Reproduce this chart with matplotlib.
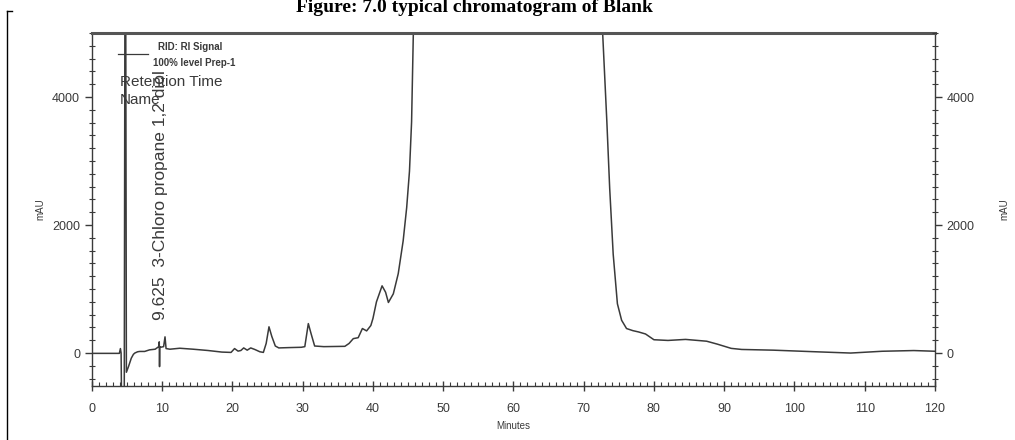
import numpy as np
import matplotlib
matplotlib.use('Agg')
import matplotlib.pyplot as plt
from matplotlib.ticker import MultipleLocator
from matplotlib.lines import Line2D

# chromatogram trace (minutes, mAU)
time_min = [0, 3.9, 4.05, 4.15, 4.2, 4.6, 4.7, 4.8, 4.9, 5.2,
            5.6, 5.9, 6.1, 6.5, 6.8, 7.5, 8.2, 9.0, 9.5, 9.58,
            9.62, 9.66, 9.75, 10.2, 10.4, 10.55, 11.1, 12.5, 14.4, 16.5,
            18.5, 19.8, 20.3, 20.8, 21.2, 21.6, 22.1, 22.6, 23.2, 23.9,
            24.4, 24.8, 25.2, 25.6, 26.1, 26.6, 28.0, 29.8, 30.3, 30.8,
            31.2, 31.7, 33.0, 36.0, 36.6, 37.2, 37.9, 38.5, 39.1, 39.7,
            40.0, 40.5, 41.3, 41.8, 42.2, 42.9, 43.6, 44.3, 44.8, 45.2,
            45.5, 45.75, 46.0, 72.5, 72.7, 73.3, 73.7, 74.2, 74.8, 75.4,
            76.1, 77.0, 77.8, 78.8, 80.0, 82.0, 84.5, 87.5, 89.0, 91.0,
            92.5, 97.0, 102.5, 108.0, 112.5, 117.0, 120.0]
signal_mau = [-5, -5, 70, 0, -600, -600, 6000, 6000, -300, -212,
              -80, -20, 0, 20, 25, 25, 50, 60, 100, 175,
              -212, 100, 90, 100, 253, 70, 60, 75, 60, 40,
              15, 10, 70, 30, 40, 80, 45, 80, 55, 20,
              10, 150, 410, 260, 110, 80, 85, 90, 100, 460,
              300, 110, 100, 105, 150, 225, 240, 383, 346, 430,
              540, 800, 1050, 950, 790, 925, 1240, 1752, 2270, 2840,
              3610, 5000, 6000, 6000, 5000, 3610, 2578, 1545, 770, 512,
              383, 350, 330, 298, 208, 197, 213, 185, 140, 73,
              56, 45, 22, 0, 28, 39, 28]
assert len(time_min) == len(signal_mau)

y_labels = [0, 2000, 4000]

plt.rcParams['font.family'] = ['Liberation Sans', 'DejaVu Sans']
grey = '#3a3a3a'

fig = plt.figure(figsize=(10.15, 4.4), dpi=100)
ax = fig.add_axes([0.0906, 0.1227, 0.8305, 0.8023])

ax.plot(time_min, signal_mau, color=grey, lw=1.1)

ax.set_xlim(0, 120)
ax.set_ylim(-515, 5000)
ax.xaxis.set_major_locator(MultipleLocator(10))
ax.xaxis.set_minor_locator(MultipleLocator(1))
ax.set_yticks(y_labels)
ax.yaxis.set_minor_locator(MultipleLocator(200))
ax.tick_params(axis='x', which='major', direction='inout', length=7, width=1,
               colors=grey, labelsize=9, pad=9)
ax.tick_params(axis='x', which='minor', direction='in', length=3, width=0.8, colors=grey)
ax.tick_params(axis='y', which='major', direction='out', length=5, width=1,
               colors=grey, labelsize=9)
ax.tick_params(axis='y', which='minor', direction='inout', length=4, width=0.8, colors=grey)
for side in ['left', 'right', 'bottom']:
    ax.spines[side].set_color(grey)
    ax.spines[side].set_linewidth(1.0)
ax.spines['top'].set_color('#555555')
ax.spines['top'].set_linewidth(2.2)

ax.set_xlabel('Minutes', fontsize=7, color=grey, labelpad=4)
ax.set_ylabel('mAU', fontsize=7, color=grey, labelpad=5)

# right hand axis mirrors the left one
ax2 = ax.twinx()
ax2.set_ylim(ax.get_ylim())
ax2.set_yticks(y_labels)
ax2.yaxis.set_minor_locator(MultipleLocator(200))
ax2.tick_params(axis='y', which='major', direction='out', length=5, width=1,
                colors=grey, labelsize=9)
ax2.tick_params(axis='y', which='minor', direction='inout', length=4, width=0.8, colors=grey)
for s in ax2.spines.values():
    s.set_visible(False)
ax2.set_ylabel('mAU', fontsize=7, color=grey, labelpad=18)

# legend-like header and peak annotation
ax.plot([3.7, 8.0], [4667, 4667], color=grey, lw=0.9)
ax.text(9.4, 4775, 'RID: RI Signal', fontsize=7, fontweight='bold',
        color=grey, va='center', ha='left')
ax.text(8.7, 4530, '100% level Prep-1', fontsize=7, fontweight='bold',
        color=grey, va='center', ha='left')
ax.text(4.0, 4233, 'Retention Time', fontsize=11, color=grey, va='center', ha='left')
ax.text(4.0, 3953, 'Name', fontsize=11, color=grey, va='center', ha='left')
ax.text(9.7, 512, '9.625  3-Chloro propane 1,2 diol', fontsize=12.5, color=grey,
        rotation=90, ha='center', va='bottom')

# page title (cut off at the top in the scan) and margin bracket
fig.text(0.467, 0.972, 'Figure: 7.0 typical chromatogram of Blank',
         family='Liberation Serif', fontweight='bold', fontsize=14,
         ha='center', va='baseline', color='black')
fig.add_artist(Line2D([0.0072, 0.0072], [0.0, 0.975], color='black', lw=1.0))
fig.add_artist(Line2D([0.0072, 0.012], [0.975, 0.975], color='black', lw=1.0))

fig.savefig('out.png', dpi=100)
